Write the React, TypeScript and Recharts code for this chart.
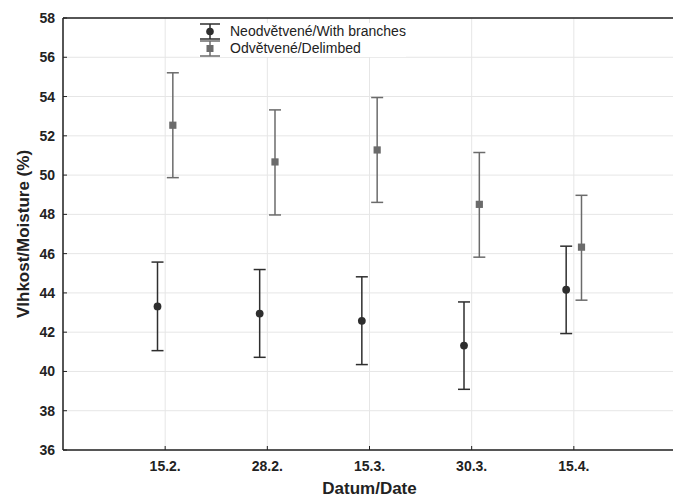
import {
  ComposedChart,
  Scatter,
  ErrorBar,
  XAxis,
  YAxis,
  CartesianGrid,
  ReferenceLine,
} from "recharts";

const dates = ["15.2.", "28.2.", "15.3.", "30.3.", "15.4."];

const neoMean = [43.31, 42.95, 42.58, 41.32, 44.16];
const neoLow = [41.06, 40.72, 40.35, 39.09, 41.93];
const neoHigh = [45.57, 45.19, 44.82, 43.54, 46.38];

const odvMean = [52.54, 50.67, 51.28, 48.51, 46.33];
const odvLow = [49.87, 47.97, 48.61, 45.82, 43.63];
const odvHigh = [55.21, 53.32, 53.95, 51.15, 48.97];

const yTicks = [36, 38, 40, 42, 44, 46, 48, 50, 52, 54, 56, 58];
const xTicks = [1, 2, 3, 4, 5];

const NEO_COLOR = "#2e2e2e";
const ODV_COLOR = "#6b6b6b";
const FONT = "'Liberation Sans', Arial, sans-serif";

// small shift so the two groups sit either side of the date tick
const SHIFT = 0.075;

const neoData = dates.map((d, i) => ({
  x: i + 1 - SHIFT,
  y: neoMean[i],
  err: [neoMean[i] - neoLow[i], neoHigh[i] - neoMean[i]],
}));

const odvData = dates.map((d, i) => ({
  x: i + 1 + SHIFT,
  y: odvMean[i],
  err: [odvMean[i] - odvLow[i], odvHigh[i] - odvMean[i]],
}));

function CircleDot(props: any) {
  return <circle cx={props.cx} cy={props.cy} r={3.9} fill={NEO_COLOR} />;
}

function SquareDot(props: any) {
  return (
    <rect x={props.cx - 3.6} y={props.cy - 3.6} width={7.2} height={7.2} fill={ODV_COLOR} />
  );
}

function LegendIcon({ color, square }: { color: string; square?: boolean }) {
  return (
    <svg width={22} height={17} style={{ display: "block" }}>
      <line x1={1} y1={1} x2={21} y2={1} stroke={color} strokeWidth={1.5} />
      <line x1={11} y1={1} x2={11} y2={16} stroke={color} strokeWidth={1.5} />
      <line x1={1} y1={16} x2={21} y2={16} stroke={color} strokeWidth={1.5} />
      {square ? (
        <rect x={7.5} y={5} width={7} height={7} fill={color} />
      ) : (
        <circle cx={11} cy={8.5} r={3.8} fill={color} />
      )}
    </svg>
  );
}

function ErrorLegend() {
  const items = [
    { label: "Neodvětvené/With branches", color: NEO_COLOR, square: false },
    { label: "Odvětvené/Delimbed", color: ODV_COLOR, square: true },
  ];
  return (
    <div
      style={{
        position: "absolute",
        left: 199,
        top: 23,
        fontFamily: FONT,
        fontSize: 14,
        color: "#222",
        background: "#fff",
      }}
    >
      {items.map((it) => (
        <div key={it.label} style={{ display: "flex", alignItems: "center", height: 17 }}>
          <LegendIcon color={it.color} square={it.square} />
          <span style={{ marginLeft: 9, lineHeight: "17px", whiteSpace: "nowrap" }}>{it.label}</span>
        </div>
      ))}
    </div>
  );
}

export default function App() {
  return (
    <div
      style={{
        position: "absolute",
        left: 0,
        top: 0,
        width: 673,
        height: 499,
        overflow: "hidden",
        background: "#fff",
      }}
    >
      <ComposedChart
        width={690}
        height={499}
        margin={{ top: 18, right: 14, left: 0, bottom: 0 }}
        style={{ fontFamily: FONT }}
      >
        <CartesianGrid stroke="#e6e6e6" strokeWidth={1} />
        <XAxis
          type="number"
          dataKey="x"
          domain={[0, 6]}
          ticks={xTicks}
          allowDataOverflow
          tickFormatter={(v: number) => dates[v - 1] ?? ""}
          height={49}
          tickSize={-4}
          tickMargin={15}
          axisLine={{ stroke: "#222", strokeWidth: 1.5 }}
          tickLine={{ stroke: "#222" }}
          tick={{ fill: "#222", fontSize: 14, fontWeight: "bold" }}
          label={{
            value: "Datum/Date",
            position: "insideBottom",
            offset: 5,
            fill: "#222",
            fontSize: 17,
            fontWeight: "bold",
          }}
        />
        <YAxis
          type="number"
          dataKey="y"
          domain={[36, 58]}
          ticks={yTicks}
          allowDataOverflow
          width={63}
          tickSize={-4}
          tickMargin={12}
          axisLine={{ stroke: "#222", strokeWidth: 1.5 }}
          tickLine={{ stroke: "#222" }}
          tick={{ fill: "#222", fontSize: 14, fontWeight: "bold" }}
          label={{
            value: "Vlhkost/Moisture (%)",
            angle: -90,
            position: "insideLeft",
            offset: 23,
            fill: "#222",
            fontSize: 17,
            fontWeight: "bold",
            style: { textAnchor: "middle" },
          }}
        />
        <ReferenceLine y={58} stroke="#222" strokeWidth={1.5} />
        <Scatter
          name="Neodvětvené/With branches"
          data={neoData}
          shape={CircleDot}
          isAnimationActive={false}
        >
          <ErrorBar dataKey="err" direction="y" width={6} stroke={NEO_COLOR} strokeWidth={1.5} />
        </Scatter>
        <Scatter
          name="Odvětvené/Delimbed"
          data={odvData}
          shape={SquareDot}
          isAnimationActive={false}
        >
          <ErrorBar dataKey="err" direction="y" width={6} stroke={ODV_COLOR} strokeWidth={1.5} />
        </Scatter>
      </ComposedChart>
      <ErrorLegend />
    </div>
  );
}
